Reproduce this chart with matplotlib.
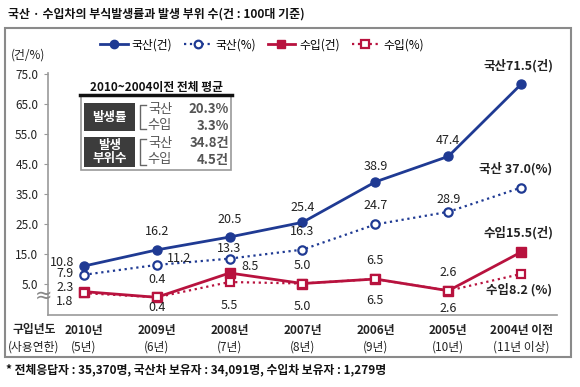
import matplotlib

matplotlib.use("Agg")

import matplotlib.pyplot as plt  # noqa: E402
from matplotlib.lines import Line2D  # noqa: E402
from matplotlib.patches import Rectangle  # noqa: E402

plt.rcParams["font.family"] = ["Noto Sans CJK KR", "DejaVu Sans"]

# data
years = ["2010년", "2009년", "2008년", "2007년", "2006년", "2005년", "2004년 이전"]
usage = ["(5년)", "(6년)", "(7년)", "(8년)", "(9년)", "(10년)", "(11년 이상)"]
dom_cnt = [10.8, 16.2, 20.5, 25.4, 38.9, 47.4, 71.5]
dom_pct = [7.9, 11.2, 13.3, 16.3, 24.7, 28.9, 37.0]
imp_cnt = [2.3, 0.4, 8.5, 5.0, 6.5, 2.6, 15.5]
imp_pct = [1.8, 0.4, 5.5, 5.0, 6.5, 2.6, 8.2]
yticks = [5, 15, 25, 35, 45, 55, 65, 75]
avg_rate = ["20.3%", "3.3%"]
avg_parts = ["34.8건", "4.5건"]

BLUE = "#1f3a93"
RED = "#b8123e"
W, H = 580, 387


def fx(px):
    return px / W


def fy(py):
    return 1 - py / H


fig = plt.figure(figsize=(5.8, 3.87), dpi=100)
ax = fig.add_axes([fx(48), fy(315), fx(557) - fx(48), fy(73) - fy(315)])
xs = list(range(len(years)))

ax.plot(xs, dom_cnt, color=BLUE, lw=2, marker="o", ms=6.5, zorder=3)
ax.plot(xs, dom_pct, color=BLUE, lw=1.6, ls=":", marker="o", ms=6,
        mfc="white", mew=1.6, zorder=3)
ax.plot(xs, imp_cnt, color=RED, lw=2, marker="s", ms=6.5, zorder=3)
ax.plot(xs, imp_pct, color=RED, lw=1.6, ls=":", marker="s", ms=6,
        mfc="white", mew=1.6, zorder=4)

ax.set_xlim(-0.49, 6.49)
ax.set_ylim(-5.5, 75.2)
ax.set_yticks(yticks)
ax.set_yticklabels([f"{v:.1f}" for v in yticks], fontsize=8.5, color="#222")
ax.set_xticks([])
for s in ("top", "right"):
    ax.spines[s].set_visible(False)
for s in ("left", "bottom"):
    ax.spines[s].set_color("#999")
    ax.spines[s].set_linewidth(1.2)
ax.tick_params(axis="y", length=3, color="#999", pad=4)

# data labels (pixel offsets from the point)
lab = dict(textcoords="offset pixels", ha="center", va="center",
           fontsize=9, color="#222", zorder=5, annotation_clip=False)
dom_cnt_off = [(-22, 4), (0, 18), (0, 18), (0, 15), (0, 15), (0, 16), None]
dom_pct_off = [(-19, 1), (22, 6), (0, 10), (0, 18), (0, 19), (0, 12), None]
imp_cnt_off = [(-19, 4), (0, 18), (20, 7), (0, 18), (0, 19), (0, 18), None]
imp_pct_off = [(-19, -8), (0, -10), (0, -23), (0, -23), (0, -21), (0, -18), None]
for vals, offs in ((dom_cnt, dom_cnt_off), (dom_pct, dom_pct_off),
                   (imp_cnt, imp_cnt_off), (imp_pct, imp_pct_off)):
    for i, (v, o) in enumerate(zip(vals, offs)):
        if o is not None:
            ax.annotate(f"{v:.1f}", (i, v), xytext=o, **lab)

end = dict(lab, fontweight="bold", fontsize=9)
ax.annotate(f"국산{dom_cnt[-1]:.1f}(건)", (6, dom_cnt[-1]), xytext=(-3, 18), **end)
ax.annotate(f"국산 {dom_pct[-1]:.1f}(%)", (6, dom_pct[-1]), xytext=(-6, 19), **end)
ax.annotate(f"수입{imp_cnt[-1]:.1f}(건)", (6, imp_cnt[-1]), xytext=(-3, 19), **end)
ax.annotate(f"수입{imp_pct[-1]:.1f} (%)", (6, imp_pct[-1]), xytext=(-2, -16), **end)

# category labels
tr = ax.get_xaxis_transform()
for i, (y, u) in enumerate(zip(years, usage)):
    ax.text(i, -0.062, y, transform=tr, ha="center", va="center",
            fontsize=8.5, fontweight="bold", color="#222")
    ax.text(i, -0.132, u, transform=tr, ha="center", va="center",
            fontsize=8.5, color="#222")
fig.text(fx(34), fy(330), "구입년도", ha="center", va="center",
         fontsize=8.5, fontweight="bold", color="#222")
fig.text(fx(34), fy(347), "(사용연한)", ha="center", va="center",
         fontsize=8.5, color="#222")

# axis break mark
fig.text(fx(44), fy(296), "≈", ha="center", va="center", fontsize=15,
         color="#888", family="DejaVu Sans")
fig.text(fx(28), fy(55), "(건/%)", ha="center", va="center", fontsize=8.5,
         color="#222")

# legend
handles = [
    Line2D([], [], color=BLUE, lw=2, marker="o", ms=6),
    Line2D([], [], color=BLUE, lw=1.6, ls=":", marker="o", ms=5.5,
           mfc="white", mew=1.6),
    Line2D([], [], color=RED, lw=2, marker="s", ms=6),
    Line2D([], [], color=RED, lw=1.6, ls=":", marker="s", ms=5.5,
           mfc="white", mew=1.6),
]
fig.legend(handles, ["국산(건)", "국산(%)", "수입(건)", "수입(%)"], ncol=4,
           loc="center", bbox_to_anchor=(fx(262), fy(45)), frameon=False,
           fontsize=8.5, handlelength=2.3, handletextpad=0.35, columnspacing=1.0)

# average box
fig.text(fx(156), fy(87), "2010~2004이전 전체 평균", ha="center", va="center",
         fontsize=8.5, fontweight="bold", color="#111")
fig.patches.append(Rectangle((fx(81), fy(170)), fx(231) - fx(81), fy(95) - fy(170),
                             transform=fig.transFigure, fill=False,
                             ec="#999", lw=1.2))
fig.lines.append(Line2D([fx(80), fx(232)], [fy(95), fy(95)],
                        transform=fig.transFigure, color="#111", lw=2.5))
for (top, bot), txt in (((103, 131), "발생률"), ((137, 167), "발생\n부위수")):
    fig.patches.append(Rectangle((fx(84), fy(bot)), fx(135) - fx(84),
                                 fy(top) - fy(bot), transform=fig.transFigure,
                                 fc="#3c3c3c", ec="none"))
    fig.text(fx(109.5), fy((top + bot) / 2), txt, ha="center", va="center",
             fontsize=9, fontweight="bold", color="white", linespacing=1.0)
    fig.lines.append(Line2D([fx(146), fx(140), fx(140), fx(146)],
                            [fy(top + 2), fy(top + 2), fy(bot - 2), fy(bot - 2)],
                            transform=fig.transFigure, color="#666", lw=1))
rows = [(109, "국산", avg_rate[0]), (126, "수입", avg_rate[1]),
        (143, "국산", avg_parts[0]), (160, "수입", avg_parts[1])]
for py, name, val in rows:
    fig.text(fx(160), fy(py), name, ha="center", va="center", fontsize=9.5,
             color="#555")
    fig.text(fx(229), fy(py), val, ha="right", va="center", fontsize=9.5,
             fontweight="bold", color="#555")

# outer frame, title and footnote
fig.patches.append(Rectangle((fx(5), fy(357)), fx(571) - fx(5), fy(28) - fy(357),
                             transform=fig.transFigure, fill=False,
                             ec="#8a8a8a", lw=1.5))
fig.text(fx(8), fy(14), "국산 · 수입차의 부식발생률과 발생 부위 수(건 : 100대 기준)",
         ha="left", va="center", fontsize=8.6, fontweight="bold", color="#111")
fig.text(fx(6), fy(370),
         "* 전체응답자 : 35,370명, 국산차 보유자 : 34,091명, 수입차 보유자 : 1,279명",
         ha="left", va="center", fontsize=8.5, fontweight="bold", color="#111")

fig.savefig("out.png", dpi=100)
